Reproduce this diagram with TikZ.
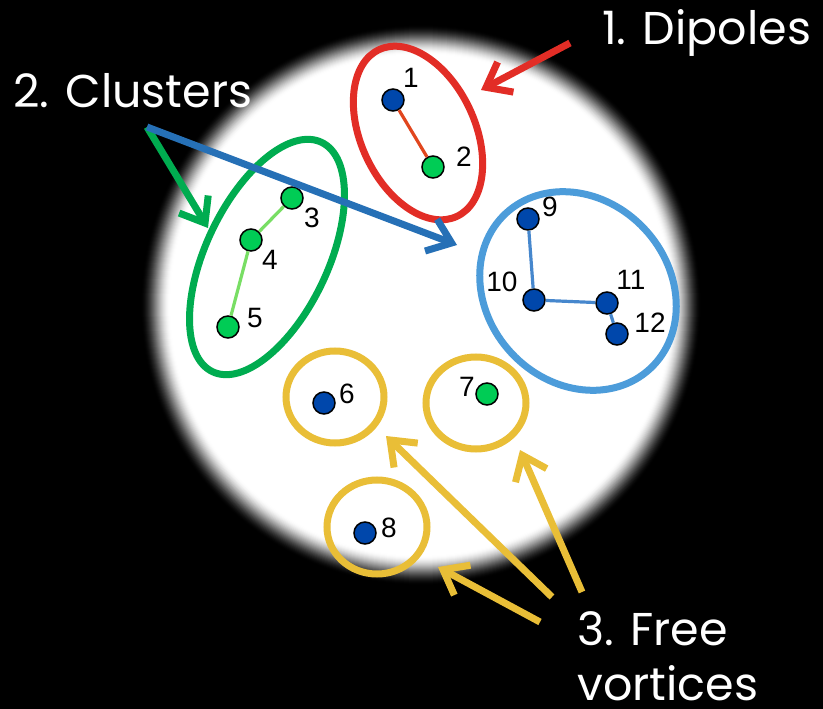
\documentclass[tikz,border=0pt]{standalone}
\usepackage{fontspec}
\setmainfont{Liberation Sans}
\newfontfamily\titlefont{Poppins}
\usetikzlibrary{arrows.meta}
\definecolor{vblue}{RGB}{0,71,171}
\definecolor{vgreen}{RGB}{0,204,85}
\definecolor{cred}{RGB}{226,45,38}
\definecolor{cgreen}{RGB}{0,172,80}
\definecolor{cblue}{RGB}{76,156,218}
\definecolor{ablue}{RGB}{38,112,182}
\definecolor{cyellow}{RGB}{233,190,55}
\definecolor{lred}{RGB}{225,70,30}
\definecolor{lgreen}{RGB}{120,222,100}
\definecolor{lblue}{RGB}{70,135,205}
\begin{document}
\begin{tikzpicture}[x=1pt,y=-1pt,
  dot/.style={circle, draw=black, line width=1.5pt, minimum size=22pt, inner sep=0pt},
  lab/.style={font=\fontsize{28}{28}\selectfont, inner sep=0pt, text=black},
  link/.style={line width=3.2pt},
  grp/.style={line width=7pt},
  arr/.style={line width=7pt, -{Straight Barb[length=22pt,width=34pt]}},
  title/.style={text=white, font=\titlefont\fontsize{46}{55}\selectfont, inner sep=0pt, anchor=base west}]
\fill[black] (0,0) rectangle (823,709);
\useasboundingbox (0,0) rectangle (823,709);
% blurred white disk
\foreach \i in {0,...,30}{
  \pgfmathsetmacro\t{\i/30}
  \pgfmathsetmacro\w{100*(3*\t*\t-2*\t*\t*\t)}
  \pgfmathsetmacro\r{281-\i}
  \fill[white!\w!black] (421,305) circle[radius=\r];
}
% vortices
\node[dot, fill=vblue]  (v1)  at (393,100) {};
\node[dot, fill=vgreen] (v2)  at (433,167) {};
\node[dot, fill=vgreen] (v3)  at (292,198) {};
\node[dot, fill=vgreen] (v4)  at (251,240) {};
\node[dot, fill=vgreen] (v5)  at (228,327) {};
\node[dot, fill=vblue]  (v6)  at (324,403) {};
\node[dot, fill=vgreen] (v7)  at (487,394) {};
\node[dot, fill=vblue]  (v8)  at (365,533) {};
\node[dot, fill=vblue]  (v9)  at (528,219) {};
\node[dot, fill=vblue]  (v10) at (534,300) {};
\node[dot, fill=vblue]  (v11) at (607,303) {};
\node[dot, fill=vblue]  (v12) at (617,334) {};
% links
\draw[link, lred]   (v1) -- (v2);
\draw[link, lgreen] (v3) -- (v4);
\draw[link, lgreen] (v4) -- (v5);
\draw[link, lblue]  (v9) -- (v10);
\draw[link, lblue]  (v10) -- (v11);
\draw[link, lblue]  (v11) -- (v12);
% labels
\node[lab] (l1)  at (411,78)  {1};
\node[lab] (l2)  at (464,157) {2};
\node[lab] (l3)  at (312,218) {3};
\node[lab] (l4)  at (270,260) {4};
\node[lab] (l5)  at (255,318) {5};
\node[lab] (l6)  at (347,394) {6};
\node[lab] (l7)  at (467,387) {7};
\node[lab] (l8)  at (389,528) {8};
\node[lab] (l9)  at (550,207) {9};
\node[lab] (l10) at (502,282) {10};
\node[lab] (l11) at (631,280) {11};
\node[lab] (l12) at (650,323) {12};
% group outlines
\draw[grp, cred]   [rotate around={-65:(418,133)}] (418,133) ellipse[x radius=92, y radius=57];
\draw[grp, cgreen] [rotate around={64.6:(267,257)}] (267,257) ellipse[x radius=127, y radius=61];
\draw[grp, cblue]  [rotate around={-47:(578,291)}] (578,291) ellipse[x radius=106, y radius=91];
\draw[grp, cyellow] (335,397) ellipse[x radius=49, y radius=46];
\draw[grp, cyellow] (476,403) ellipse[x radius=50, y radius=46];
\draw[grp, cyellow] (377,527) ellipse[x radius=50, y radius=47];
% titles
\node[title] (t1) at (602,45) {1. Dipoles};
\node[title] (t2) at (13,108) {2. Clusters};
\node[title, align=left, text depth=0pt] (t3) at (577,700) {3. Free\\vortices};
% arrows
\coordinate (rs) at (570,43);  \coordinate (rt) at (481,90);
\coordinate (cs) at (147,127); \coordinate (gt) at (208,228); \coordinate (bt) at (457,245);
\coordinate (as) at (552,597); \coordinate (at6) at (386,436);
\coordinate (bs) at (582,592); \coordinate (bt7) at (520,450);
\coordinate (ys) at (540,622); \coordinate (yt8) at (438,567);
\draw[arr, cred] (rs) -- (rt);
\draw[arr, cgreen] (cs) -- (gt);
\draw[arr, ablue] (cs) -- (bt);
\draw[arr, cyellow] (as) -- (at6);
\draw[arr, cyellow] (bs) -- (bt7);
\draw[arr, cyellow] (ys) -- (yt8);
\end{tikzpicture}
\end{document}
